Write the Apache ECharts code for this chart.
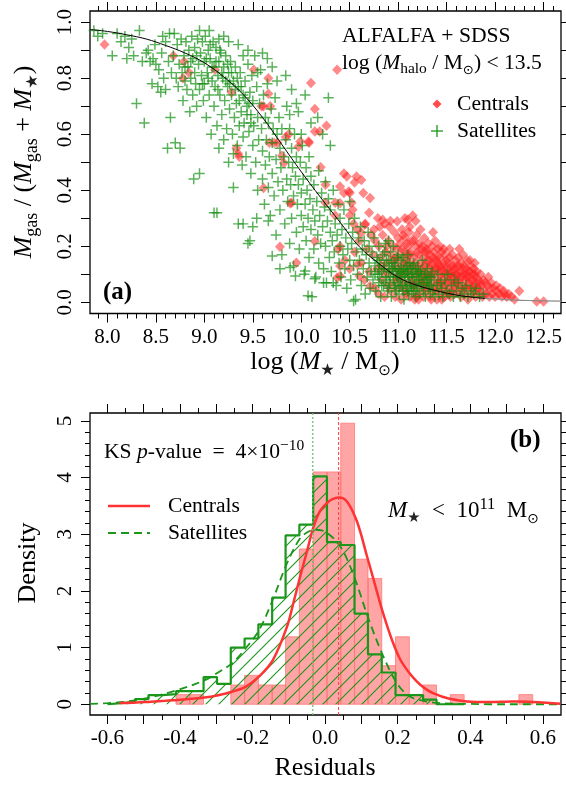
<!DOCTYPE html>
<html>
<head>
<meta charset="utf-8">
<script src="https://cdn.jsdelivr.net/npm/echarts@6/dist/echarts.min.js"></script>
<style>
html,body{margin:0;padding:0;background:#fff}
#chart{width:566px;height:785px}
</style>
</head>
<body>
<div id="chart"></div>
<script>
// ---------- Panel (a): gas fraction vs stellar mass ----------
const centrals = [
  [7.97,0.92],[8.68,0.88],[8.79,0.86],[8.78,0.8],[8.84,0.82],[9.11,0.83],[9.28,0.75],[9.51,0.83],[9.66,0.8],[9.66,0.745],
  [9.61,0.7],[9.68,0.7],[9.59,0.7],[9.33,0.55],[9.35,0.53],[9.36,0.52],[9.67,0.57],[9.72,0.57],[9.755,0.57],[9.84,0.59],
  [9.87,0.6],[9.97,0.555],[9.99,0.574],[10.08,0.57],[10.075,0.574],[9.8,0.523],[9.82,0.497],[10.1,0.783],[10.14,0.69],[10.19,0.61],
  [10.26,0.63],[10.14,0.61],[10.37,0.83],[9.61,0.408],[9.9,0.355],[9.78,0.198],[9.95,0.141],[10.14,0.218],[10.38,0.189],[10.4,0.13],
  [10.37,0.088],[10.2,0.482],[10.44,0.46],[10.47,0.449],[10.55,0.428],[10.57,0.449],[10.62,0.437],[10.64,0.39],[10.71,0.372],[10.25,0.42],
  [10.44,0.39],[10.5,0.39],[10.52,0.355],[10.25,0.355],[10.35,0.355],[10.35,0.31],[10.5,0.31],[10.54,0.28],[10.4,0.354],[10.53,0.33],
  [10.49,0.396],[10.4,0.413],[9.885,0.354],[10.6,0.094],[10.71,0.058],[10.656,0.277],[10.84,0.295],[10.99,0.289],[11.1,0.295],[10.75,0.26],
  [10.62,0.248],[10.4,0.094],[10.58,0.135],
  [10.4,0.2],[10.45,0.15],[10.5,0.12],[10.55,0.18],[10.6,0.22],[10.62,0.14],[10.65,0.08],[10.68,0.19],[10.7,0.11],[10.72,0.24],
  [10.74,0.17],[10.66,0.28],[10.7,0.32],[10.76,0.22],[10.58,0.26],
  [10.76,0.05],[10.78,0.12],[10.8,0.2],[10.8,0.03],[10.82,0.16],[10.83,0.08],[10.84,0.24],[10.85,0.11],[10.86,0.02],[10.87,0.18],
  [10.88,0.14],[10.89,0.06],[10.9,0.22],[10.9,0.1],[10.91,0.27],[10.92,0.04],[10.93,0.17],[10.94,0.12],[10.95,0.2],[10.95,0.07],
  [10.96,0.25],[10.97,0.02],[10.97,0.14],[10.98,0.09],[10.99,0.19],[11.0,0.23],[11.0,0.05],[11.0,0.12],[10.92,0.29],[10.86,0.28],
  [10.79,0.3],[10.81,0.27],
  [11.01,0.16],[11.02,0.08],[11.02,0.21],[11.03,0.01],[11.04,0.13],[11.04,0.26],[11.05,0.06],[11.06,0.18],[11.06,0.1],[11.07,0.23],
  [11.08,0.03],[11.08,0.15],[11.09,0.11],[11.1,0.2],[11.1,0.07],[11.11,0.25],[11.11,0.14],[11.12,0.02],[11.13,0.09],[11.13,0.18],
  [11.14,0.22],[11.15,0.05],[11.15,0.13],[11.16,0.16],[11.17,0.01],[11.17,0.1],[11.18,0.2],[11.19,0.07],[11.19,0.24],[11.2,0.12],
  [11.2,0.03],[11.21,0.17],[11.22,0.09],[11.22,0.21],[11.23,0.14],[11.24,0.05],[11.24,0.19],[11.25,0.11],[11.26,0.02],[11.26,0.16],
  [11.27,0.08],[11.27,0.23],[11.28,0.13],[11.29,0.04],[11.29,0.19],[11.3,0.1],[11.3,0.15],[11.12,0.27],[11.18,0.29],[11.07,0.3],
  [11.15,0.31],[11.23,0.26],[11.04,0.19],[11.09,0.17],[11.16,0.06],[11.21,0.01],[11.25,0.07],[11.28,0.18],
  [11.31,0.06],[11.31,0.21],[11.32,0.12],[11.33,0.02],[11.33,0.17],[11.34,0.09],[11.35,0.14],[11.35,0.2],[11.36,0.04],[11.37,0.11],
  [11.37,0.18],[11.38,0.07],[11.39,0.15],[11.4,0.01],[11.4,0.12],[11.41,0.19],[11.42,0.05],[11.42,0.09],[11.43,0.16],[11.44,0.13],
  [11.44,0.03],[11.45,0.18],[11.46,0.08],[11.46,0.11],[11.47,0.14],[11.48,0.02],[11.48,0.17],[11.49,0.06],[11.5,0.1],[11.5,0.15],
  [11.51,0.04],[11.52,0.12],[11.52,0.08],[11.53,0.16],[11.54,0.02],[11.54,0.1],[11.55,0.13],[11.56,0.06],[11.56,0.17],[11.57,0.09],
  [11.58,0.03],[11.58,0.12],[11.59,0.15],[11.6,0.07],[11.6,0.1],[11.38,0.22],[11.43,0.2],[11.36,0.25],[11.47,0.19],[11.53,0.19],
  [11.41,0.07],[11.45,0.01],[11.55,0.04],[11.34,0.01],
  [11.61,0.13],[11.62,0.04],[11.62,0.16],[11.63,0.08],[11.64,0.11],[11.65,0.02],[11.65,0.14],[11.66,0.06],[11.67,0.1],[11.68,0.13],
  [11.68,0.03],[11.69,0.08],[11.7,0.12],[11.7,0.05],[11.71,0.15],[11.72,0.01],[11.72,0.09],[11.73,0.11],[11.74,0.06],[11.75,0.03],
  [11.75,0.13],[11.76,0.08],[11.77,0.1],[11.78,0.04],[11.78,0.12],[11.79,0.06],[11.8,0.02],[11.8,0.09],[11.81,0.11],[11.82,0.05],
  [11.83,0.08],[11.84,0.03],[11.85,0.1],[11.86,0.06],[11.87,0.02],[11.88,0.08],[11.89,0.04],[11.9,0.07],[11.67,0.17],[11.74,0.15],
  [11.63,0.19],[11.79,0.14],
  [11.91,0.03],[11.92,0.06],[11.93,0.09],[11.94,0.02],[11.95,0.05],[11.96,0.07],[11.97,0.03],[11.98,0.05],[12.0,0.02],[12.01,0.06],
  [12.02,0.04],[12.04,0.03],[12.05,0.05],[12.07,0.02],[12.09,0.04],[12.1,0.03],[12.12,0.02],[12.14,0.03],[12.17,0.02],[12.2,0.01],
  [12.25,0.04],[12.43,0.003],[12.5,0.003],
  [10.98,0.16],[11.03,0.11],[11.05,0.24],[11.07,0.04],[11.09,0.21],[11.12,0.12],[11.14,0.07],[11.16,0.22],[11.18,0.14],[11.19,0.02],
  [11.21,0.11],[11.23,0.07],[11.25,0.2],[11.27,0.13],[11.28,0.05],[11.3,0.18],[11.31,0.09],[11.32,0.15],[11.33,0.06],[11.35,0.1],
  [11.36,0.16],[11.38,0.12],[11.39,0.04],[11.4,0.16],[11.41,0.14],[11.43,0.1],[11.44,0.07],[11.45,0.12],[11.47,0.05],[11.49,0.12],
  [11.5,0.07],[11.51,0.14],[11.52,0.03],[11.53,0.1],[11.55,0.08],[11.57,0.13],[11.58,0.06],[11.59,0.1],[11.61,0.08],[11.63,0.13],
  [11.64,0.05],[11.66,0.09],[11.67,0.12],[11.69,0.05],[11.71,0.1],[11.73,0.07],[11.74,0.11],[11.76,0.05],[11.77,0.08],[11.79,0.1],
  [11.81,0.07],[11.83,0.05],[11.85,0.07],[11.12,0.17],[11.2,0.18],[11.26,0.1],[11.34,0.13],[11.42,0.13],[11.48,0.1],[11.56,0.11],
  [11.62,0.1],[11.7,0.09],[11.06,0.14],[11.0,0.09],[10.94,0.15],[10.88,0.2],[10.83,0.13]
];

const satellites = [
  [7.86,0.97],[7.9,0.95],[7.95,0.96],[8.05,0.88],[8.1,0.96],[8.14,0.93],[8.18,0.95],[8.2,0.87],[8.22,0.91],[8.25,0.94],[8.27,0.88],[8.3,0.71],
  [8.33,0.97],[8.36,0.86],[8.38,0.64],[8.4,0.89],[8.42,0.9],[8.44,0.86],[8.46,0.78],[8.47,0.87],[8.49,0.92],[8.5,0.85],[8.52,0.77],
  [8.53,0.83],[8.55,0.75],[8.56,0.89],[8.57,0.95],[8.58,0.8],[8.6,0.76],[8.6,0.93],[8.62,0.55],[8.63,0.86],[8.64,0.96],[8.65,0.66],
  [8.66,0.82],[8.68,0.88],[8.69,0.96],
  [8.7,0.57],[8.71,0.8],[8.72,0.92],[8.73,0.77],[8.74,0.85],[8.75,0.55],[8.76,0.94],[8.77,0.82],[8.78,0.72],[8.79,0.88],[8.8,0.79],
  [8.81,0.93],[8.82,0.76],[8.83,0.84],[8.84,0.9],[8.85,0.68],[8.86,0.8],[8.87,0.95],[8.88,0.74],[8.88,0.87],[8.89,0.44],[8.9,0.82],
  [8.9,0.91],[8.91,0.78],[8.92,0.7],[8.93,0.94],[8.94,0.85],[8.95,0.46],[8.95,0.76],[8.96,0.89],[8.97,0.81],[8.98,0.93],[8.99,0.72],
  [9.0,0.86],[9.0,0.78],[9.01,0.95],[9.02,0.66],[9.03,0.82],[9.04,0.9],[9.05,0.74],[9.06,0.87],[9.07,0.6],[9.08,0.79],[9.09,0.93],[9.1,0.32],
  [9.1,0.84],[9.1,0.7],[9.11,0.77],[9.12,0.91],[9.13,0.63],[9.14,0.81],[9.15,0.86],[9.15,0.55],[9.16,0.74],[9.17,0.89],[9.18,0.67],
  [9.19,0.8],[9.2,0.84],[9.2,0.58],[9.21,0.72],[9.22,0.88],[9.23,0.62],[9.24,0.77],[9.25,0.82],[9.25,0.5],[9.26,0.69],[9.27,0.86],
  [9.28,0.74],[9.29,0.6],[9.3,0.79],[9.3,0.53],[9.31,0.66],[9.32,0.84],[9.33,0.71],[9.34,0.56],[9.35,0.28],[9.35,0.77],[9.36,0.63],
  [9.37,0.82],[9.38,0.68],[9.39,0.49],[9.4,0.74],[9.4,0.59],[9.4,0.88],[9.41,0.64],[9.42,0.79],[9.43,0.52],[9.44,0.7],[9.45,0.21],
  [9.45,0.85],[9.46,0.61],[9.47,0.75],[9.48,0.46],[9.48,0.67],[9.49,0.81],[9.5,0.56],[9.5,0.72],[9.5,0.27],[9.51,0.63],[9.52,0.88],
  [9.53,0.5],[9.54,0.77],[9.55,0.66],[9.55,0.4],[9.56,0.58],
  [9.57,0.71],[9.58,0.83],[9.59,0.62],[9.6,0.44],[9.6,0.54],[9.61,0.74],[9.62,0.35],[9.63,0.66],[9.63,0.49],[9.64,0.58],[9.65,0.78],
  [9.66,0.41],[9.66,0.64],[9.67,0.52],[9.68,0.31],[9.69,0.69],[9.7,0.57],[9.7,0.46],[9.71,0.62],[9.72,0.38],[9.73,0.73],[9.74,0.51],
  [9.74,0.24],[9.75,0.6],[9.76,0.43],[9.77,0.66],[9.78,0.33],[9.78,0.55],[9.79,0.48],[9.8,0.62],[9.8,0.17],[9.81,0.4],[9.82,0.52],
  [9.83,0.28],[9.84,0.58],[9.85,0.44],[9.85,0.7],[9.86,0.36],[9.87,0.5],[9.88,0.21],[9.88,0.62],[9.89,0.42],[9.9,0.55],[9.9,0.3],
  [9.91,0.48],[9.92,0.13],[9.92,0.38],[9.93,0.6],[9.94,0.45],[9.95,0.25],[9.95,0.52],[9.96,0.35],[9.97,0.68],[9.97,0.42],[9.98,0.19],
  [9.99,0.5],[10.0,0.31],[10.0,0.39],[10.01,0.56],[10.02,0.27],[10.02,0.44],[10.03,0.1],[10.04,0.35],[10.05,0.48],[10.05,0.22],
  [10.06,0.4],[10.07,0.3],[10.08,0.52],[10.08,0.16],[10.09,0.37],[10.1,0.26],[10.1,0.45],[10.11,0.02],[10.12,0.33],[10.13,0.19],
  [10.13,0.42],[10.14,0.29],[10.15,0.09],[10.16,0.36],[10.17,0.24],[10.18,0.47],[10.18,0.14],[10.19,0.31],[10.2,0.21],[10.21,0.39],
  [10.22,0.27],[10.23,0.12],[10.24,0.34],[10.25,0.2],[10.25,0.43],[10.26,0.07],[10.27,0.29],[10.28,0.37],[10.29,0.16],[10.3,0.25],
  [10.3,0.33],[10.31,0.11],[10.32,0.22],[10.33,0.4],[10.34,0.18],[10.35,0.28],[10.36,0.06],[10.37,0.24],[10.38,0.35],[10.39,0.14],
  [10.4,0.2],[10.4,0.3],[10.41,0.09],[10.42,0.26],[10.43,0.17],[10.44,0.33],[10.45,0.12],[10.46,0.23],[10.47,0.05],[10.48,0.19],
  [10.49,0.28],[10.5,0.15],[10.5,0.36],[10.51,0.08],[10.52,0.21],[10.53,0.25],[10.54,0.13],[10.55,0.3],[10.56,0.01],[10.57,0.18],
  [10.58,0.1],[10.59,0.23],[10.6,0.15],[10.61,0.27],[10.62,0.06],[10.63,0.19],[10.64,0.12],[10.65,0.22],[10.66,0.03],[10.67,0.17],
  [10.68,0.09],[10.69,0.25],[10.7,0.14],[10.7,0.2],[10.71,0.05],[10.72,0.11],[10.73,0.18],[10.74,0.08],[10.75,0.23],[10.76,0.13],
  [10.77,0.04],[10.78,0.16],[10.79,0.1],[10.8,0.2],[10.8,0.07],[10.81,0.14],[10.82,0.02],[10.83,0.11],[10.84,0.17],[10.85,0.06],
  [10.86,0.13],[10.87,0.21],[10.88,0.09],[10.89,0.04],[10.9,0.15],[10.9,0.11],[10.91,0.07],[10.92,0.18],[10.93,0.02],[10.94,0.12],
  [10.95,0.08],[10.96,0.14],[10.97,0.05],[10.98,0.1],[10.99,0.16],[11.0,0.07],[11.0,0.12],[11.01,0.03],[11.02,0.09],[11.03,0.15],
  [11.04,0.06],[11.05,0.11],[11.06,0.01],[11.07,0.08],[11.08,0.13],[11.09,0.05],[11.1,0.1],[11.1,0.17],[11.11,0.03],[11.12,0.07],
  [11.13,0.12],[11.14,0.04],[11.15,0.09],[11.16,0.14],[11.17,0.06],[11.18,0.02],[11.19,0.1],[11.2,0.05],[11.2,0.13],[11.21,0.08],
  [11.22,0.03],[11.23,0.11],[11.24,0.06],[11.25,0.15],[11.26,0.04],[11.27,0.09],[11.28,0.02],[11.29,0.07],[11.3,0.12],[11.31,0.05],
  [11.32,0.09],[11.33,0.03],[11.34,0.06],[11.35,0.11],[11.36,0.04],[11.37,0.08],[11.38,0.02],[11.4,0.06],[11.41,0.1],[11.42,0.03],
  [11.44,0.07],[11.45,0.05],[11.46,0.02],[11.48,0.08],[11.5,0.04],[11.51,0.1],[11.53,0.03],[11.55,0.06],[11.57,0.02],[11.58,0.08],
  [11.6,0.04],[11.62,0.07],[11.64,0.02],[11.66,0.05],[11.68,0.03],[11.7,0.06],[11.72,0.02],[11.75,0.04],[11.78,0.03],[11.8,0.05],
  [11.84,0.02],[11.88,0.03],
  [9.84,0.81],[9.9,0.76],[10.04,0.74],[10.28,0.73],[10.17,0.66],[10.3,0.56],[10.22,0.6],[9.95,0.71],[10.1,0.64],[10.0,0.6],
  [9.88,0.67],[9.75,0.79],[9.7,0.84],[9.65,0.87],[9.6,0.89],[9.55,0.82],[9.45,0.9],[9.35,0.92],[9.25,0.93],[9.2,0.95],
  [9.15,0.94],[9.05,0.97],[8.95,0.97],
  [9.13,0.32],[9.3,0.41],[9.4,0.28],[9.47,0.22],[9.54,0.3],[9.66,0.29],[9.7,0.165],[9.78,0.12],[9.885,0.124],[9.94,0.094],
  [10.04,0.112],[10.07,0.023],[10.14,0.084],[10.23,0.07],[10.33,0.07],[10.54,0.005],
  [10.76,0.1],[10.79,0.15],[10.81,0.09],[10.83,0.06],[10.85,0.12],[10.87,0.08],[10.88,0.15],[10.9,0.05],[10.91,0.12],[10.92,0.09],
  [10.93,0.14],[10.95,0.11],[10.96,0.06],[10.97,0.13],[10.98,0.04],[10.99,0.09],[11.01,0.11],[11.02,0.06],[11.03,0.12],[11.04,0.09],
  [11.05,0.04],[11.06,0.12],[11.07,0.1],[11.08,0.06],[11.09,0.11],[11.1,0.04],[11.11,0.09],[11.12,0.14],[11.13,0.06],[11.14,0.1],
  [11.15,0.12],[11.16,0.04],[11.17,0.09],[11.18,0.12],[11.19,0.06],[11.21,0.11],[11.22,0.08],[11.24,0.1],[11.26,0.07],[11.28,0.1],
  [11.3,0.08],[11.32,0.06],[11.34,0.09],[10.95,0.2],[11.0,0.17],[11.05,0.16],[11.1,0.13],[10.86,0.18],[10.9,0.22],[10.8,0.12],
  [9.02,0.87],[9.04,0.8],[9.06,0.92],[9.08,0.84],[9.12,0.86],[9.14,0.76],[9.16,0.9],[9.18,0.82],[9.22,0.79],[9.24,0.85],
  [9.26,0.78],[9.28,0.82],[9.32,0.76],[9.34,0.8],[9.36,0.72],[9.38,0.77],[9.42,0.73],[9.44,0.67],[9.46,0.71],[9.48,0.64],
  [8.92,0.88],[8.86,0.86],[8.8,0.84],[8.98,0.78]
];

// Fitted relation
const fitX = [7.82,8.0,8.2,8.4,8.6,8.8,9.0,9.2,9.4,9.6,9.8,10.0,10.2,10.4,10.6,10.8,11.0,11.2,11.4,11.6,11.8,11.9];
const fitY = [0.974,0.967,0.955,0.94,0.917,0.89,0.855,0.805,0.742,0.66,0.563,0.466,0.374,0.286,0.198,0.139,0.089,0.06,0.041,0.026,0.017,0.014];
const fitExtX = [11.9,12.0,12.2,12.4,12.68];
const fitExtY = [0.014,0.012,0.008,0.006,0.004];

// ---------- Panel (b): residual distributions ----------
const binEdges = [-0.600,-0.562,-0.524,-0.487,-0.449,-0.411,-0.373,-0.335,-0.298,-0.260,-0.222,-0.184,-0.146,-0.109,-0.071,-0.033,
  0.005,0.043,0.081,0.118,0.156,0.194,0.232,0.270,0.307,0.345,0.383,0.421,0.459,0.496,0.534,0.572];
const centralsHist = [0,0,0,0,0,0.17,0.17,0,0,0.34,0.51,0.34,0.34,1.19,2.74,4.10,4.10,4.96,2.56,2.22,0.68,1.19,0.17,0.34,0,0.17,0,0,0,0,0.17];
const satellitesHist = [0.02,0.04,0.09,0.16,0.18,0.23,0.23,0.48,0.36,1.00,1.16,1.41,1.88,2.98,3.17,4.02,2.86,2.81,1.60,0.88,0.56,0.16,0.16,0.08,0,0];

const centralsKdeX = [-0.567,-0.52,-0.48,-0.44,-0.408,-0.37,-0.333,-0.295,-0.257,-0.218,-0.182,-0.144,-0.105,-0.087,-0.069,-0.05,-0.032,-0.015,0.005,0.02,0.037,0.06,0.088,0.115,0.14,0.161,0.185,0.207,0.23,0.253,0.275,0.299,0.34,0.391,0.45,0.5,0.529,0.56,0.6,0.648];
const centralsKdeY = [0.02,0.03,0.045,0.06,0.076,0.095,0.117,0.16,0.22,0.31,0.49,0.78,1.37,1.8,2.25,2.7,3.13,3.4,3.55,3.62,3.65,3.58,3.22,2.62,2.05,1.58,1.12,0.79,0.57,0.4,0.28,0.19,0.1,0.05,0.04,0.045,0.05,0.045,0.03,0.01];
const satellitesKdeX = [-0.648,-0.6,-0.545,-0.482,-0.408,-0.333,-0.295,-0.257,-0.22,-0.182,-0.144,-0.105,-0.07,-0.05,-0.03,-0.01,0.01,0.03,0.05,0.083,0.12,0.16,0.2,0.235,0.27,0.3,0.35,0.4,0.45,0.55,0.648];
const satellitesKdeY = [0.005,0.02,0.05,0.12,0.25,0.42,0.56,0.72,0.98,1.31,1.85,2.49,2.92,3.03,3.08,3.07,3.0,2.88,2.7,2.2,1.5,0.85,0.35,0.13,0.06,0.03,0.01,0.005,0,0,0];
const centralsMedian = 0.037;
const satellitesMedian = -0.034;

// Axis ranges
const aXRange = [7.82, 12.68];
const aYRange = [-0.04, 1.04];
const bXRange = [-0.648, 0.65];
const bYRange = [-0.19, 5.14];

// Tick positions and labels
const aXLabels = [8,8.5,9,9.5,10,10.5,11,11.5,12,12.5];
const aYLabels = [0,0.2,0.4,0.6,0.8,1.0];
const bXLabels = [-0.6,-0.4,-0.2,0,0.2,0.4,0.6];
const bYLabels = [0,1,2,3,4,5];

function steps(from, to, step) {
  const out = [];
  const n = Math.round((to - from) / step);
  for (let i = 0; i <= n; i++) out.push(Math.round((from + i * step) * 1000) / 1000);
  return out;
}
const aXMinor = steps(7.9, 12.6, 0.1);
const aYTicks = steps(0, 1, 0.1);
const bXMajor = steps(-0.6, 0.6, 0.1);
const bXMinor = steps(-0.6, 0.6, 0.05);
const bYMinor = steps(0, 5, 0.2);

const FONT = "'Liberation Serif', 'DejaVu Serif', serif";
const RED = '#ff3333';
const GREEN = '#1a961a';

// Diagonal hatch used to fill the satellite histogram
function hatchPattern() {
  const s = 13;
  const c = document.createElement('canvas');
  c.width = s; c.height = s;
  const g = c.getContext('2d');
  g.strokeStyle = GREEN;
  g.lineWidth = 1.1;
  g.beginPath();
  g.moveTo(-1, s + 1); g.lineTo(s + 1, -1);
  g.moveTo(-2, 2); g.lineTo(2, -2);
  g.moveTo(s - 2, s + 2); g.lineTo(s + 2, s - 2);
  g.stroke();
  return c;
}

function zip(xs, ys) { return xs.map((x, i) => [x, ys[i]]); }

const satStep = [[binEdges[0], 0]];
satellitesHist.forEach((h, i) => satStep.push([binEdges[i], h]));
satStep.push([binEdges[satellitesHist.length], satellitesHist[satellitesHist.length - 1]]);
satStep.push([binEdges[satellitesHist.length], 0]);

const labelStyle = { fontFamily: FONT, fontSize: 21, color: '#000' };
const tickLine = { color: '#000', width: 1 };

function tickAxis(base, extra) { return Object.assign({
  type: 'value', axisLine: { show: false, onZero: false }, splitLine: { show: false },
  axisLabel: { show: false }, axisTick: { show: false }
}, base, extra); }

const xAxes = [
  // panel (a)
  tickAxis({ gridIndex: 0, min: aXRange[0], max: aXRange[1], position: 'bottom' }, {
    axisTick: { show: true, customValues: aXLabels, length: 9, lineStyle: tickLine },
    axisLabel: Object.assign({ show: true, customValues: aXLabels, margin: 13, formatter: v => v.toFixed(1) }, labelStyle)
  }),
  tickAxis({ gridIndex: 0, min: aXRange[0], max: aXRange[1], position: 'bottom' }, { axisTick: { show: true, customValues: aXMinor, length: 5, lineStyle: tickLine } }),
  tickAxis({ gridIndex: 0, min: aXRange[0], max: aXRange[1], position: 'top' }, { axisTick: { show: true, customValues: aXLabels, length: 9, lineStyle: tickLine } }),
  tickAxis({ gridIndex: 0, min: aXRange[0], max: aXRange[1], position: 'top' }, { axisTick: { show: true, customValues: aXMinor, length: 5, lineStyle: tickLine } }),
  // panel (b)
  tickAxis({ gridIndex: 1, min: bXRange[0], max: bXRange[1], position: 'bottom' }, {
    axisTick: { show: true, customValues: bXMajor, length: 9, lineStyle: tickLine },
    axisLabel: Object.assign({ show: true, customValues: bXLabels, margin: 13, formatter: v => v.toFixed(1) }, labelStyle)
  }),
  tickAxis({ gridIndex: 1, min: bXRange[0], max: bXRange[1], position: 'bottom' }, { axisTick: { show: true, customValues: bXMinor, length: 5, lineStyle: tickLine } }),
  tickAxis({ gridIndex: 1, min: bXRange[0], max: bXRange[1], position: 'top' }, { axisTick: { show: true, customValues: bXMajor, length: 9, lineStyle: tickLine } }),
  tickAxis({ gridIndex: 1, min: bXRange[0], max: bXRange[1], position: 'top' }, { axisTick: { show: true, customValues: bXMinor, length: 5, lineStyle: tickLine } })
];

const yAxes = [
  // panel (a)
  tickAxis({ gridIndex: 0, min: aYRange[0], max: aYRange[1], position: 'left' }, {
    axisTick: { show: true, customValues: aYTicks, length: 9, lineStyle: tickLine },
    axisLabel: Object.assign({ show: true, customValues: aYLabels, rotate: 90, margin: 14, formatter: v => v.toFixed(1) }, labelStyle)
  }),
  tickAxis({ gridIndex: 0, min: aYRange[0], max: aYRange[1], position: 'right' }, { axisTick: { show: true, customValues: aYTicks, length: 9, lineStyle: tickLine } }),
  // panel (b)
  tickAxis({ gridIndex: 1, min: bYRange[0], max: bYRange[1], position: 'left' }, {
    axisTick: { show: true, customValues: bYLabels, length: 9, lineStyle: tickLine },
    axisLabel: Object.assign({ show: true, customValues: bYLabels, rotate: 90, margin: 14, formatter: v => String(v) }, labelStyle)
  }),
  tickAxis({ gridIndex: 1, min: bYRange[0], max: bYRange[1], position: 'left' }, { axisTick: { show: true, customValues: bYMinor, length: 5, lineStyle: tickLine } }),
  tickAxis({ gridIndex: 1, min: bYRange[0], max: bYRange[1], position: 'right' }, { axisTick: { show: true, customValues: bYLabels, length: 9, lineStyle: tickLine } }),
  tickAxis({ gridIndex: 1, min: bYRange[0], max: bYRange[1], position: 'right' }, { axisTick: { show: true, customValues: bYMinor, length: 5, lineStyle: tickLine } })
];

// Rich-text styles for math-like labels (italic M, sub- and superscripts)
function richSet(size, lh, small, smallLh) {
  return {
    n: { fontFamily: FONT, fontSize: size, lineHeight: lh, verticalAlign: 'middle', fill: '#000' },
    m: { fontFamily: FONT, fontSize: size, lineHeight: lh, verticalAlign: 'middle', fontStyle: 'italic', fill: '#000' },
    sub: { fontFamily: FONT, fontSize: small, lineHeight: smallLh, verticalAlign: 'bottom', fill: '#000' },
    st: { fontFamily: "'DejaVu Sans', sans-serif", fontSize: small * 0.9, lineHeight: smallLh, verticalAlign: 'bottom', fill: '#222' },
    sup: { fontFamily: FONT, fontSize: small, lineHeight: smallLh - 2, verticalAlign: 'top', fill: '#000' },
    sun: { fontFamily: "'DejaVu Sans', sans-serif", fontSize: small * 0.85, lineHeight: smallLh, verticalAlign: 'bottom', fill: '#000' }
  };
}
const rich26 = richSet(26, 34, 18, 20);
const rich22 = richSet(21.6, 28, 15.5, 15);
const rich23 = richSet(23, 30, 16.5, 16);

function txt(x, y, text, rich, opts) {
  return Object.assign({
    type: 'text', x: x, y: y, z: 100,
    style: Object.assign({ text: text, rich: rich, align: 'left', verticalAlign: 'middle', fill: '#000',
      fontFamily: FONT, fontSize: 21 }, (opts && opts.style) || {})
  }, opts && opts.el || {});
}

const graphics = [
  // panel (a) titles
  txt(24, 162, '{m|M}{sub|gas}{n| / (}{m|M}{sub|gas}{n| + }{m|M}{st|★}{n|)}', rich26, { style: { align: 'center' }, el: { rotation: Math.PI / 2 } }),
  txt(325, 362, '{n|log (}{m|M}{st|★}{n| / M}{sun|⊙}{n|)}', rich26, { style: { align: 'center' } }),
  txt(342, 36, '{n|ALFALFA + SDSS}', rich22),
  txt(342, 63, '{n|log (}{m|M}{sub|halo}{n| / M}{sun|⊙}{n|) < 13.5}', rich22),
  txt(457, 104, '{n|Centrals}', rich22),
  txt(457, 131, '{n|Satellites}', rich22),
  txt(103, 293, '(a)', null, { style: { fontWeight: 'bold', fontSize: 25 } }),
  { type: 'polygon', z: 100, shape: { points: [[437, 99.5], [441.5, 104], [437, 108.5], [432.5, 104]] }, style: { fill: 'rgba(255,45,45,0.85)' } },
  { type: 'line', z: 100, shape: { x1: 431, y1: 131, x2: 443, y2: 131 }, style: { stroke: GREEN, lineWidth: 1.3 } },
  { type: 'line', z: 100, shape: { x1: 437, y1: 125, x2: 437, y2: 137 }, style: { stroke: GREEN, lineWidth: 1.3 } },
  // panel (b) titles
  txt(28, 563, '{n|Density}', rich26, { style: { align: 'center' }, el: { rotation: Math.PI / 2 } }),
  txt(325, 768, '{n|Residuals}', rich26, { style: { align: 'center' } }),
  txt(104, 452, '{n|KS }{m|p}{n|-value  =  4×10}{sup|−10}', rich22),
  txt(510, 441, '(b)', null, { style: { fontWeight: 'bold', fontSize: 25 } }),
  txt(388, 511, '{m|M}{st|★}{n|  <  10}{sup|11}{n|  M}{sun|⊙}', rich23),
  { type: 'line', z: 100, shape: { x1: 108, y1: 506, x2: 150, y2: 506 }, style: { stroke: RED, lineWidth: 2.5 } },
  { type: 'line', z: 100, shape: { x1: 108, y1: 533, x2: 150, y2: 533 }, style: { stroke: GREEN, lineWidth: 1.8, lineDash: [8, 5] } },
  txt(168, 506, '{n|Centrals}', rich22),
  txt(168, 533, '{n|Satellites}', rich22)
];

const plusSymbol = 'path://M0,4.3H10V5.7H0Z M4.3,0H5.7V10H4.3Z';

const option = {
  animation: false,
  backgroundColor: '#fff',
  grid: [
    { left: 90, top: 11, width: 471, height: 302.5, show: true, borderColor: '#000', borderWidth: 1.3, backgroundColor: 'transparent' },
    { left: 90, top: 413, width: 471, height: 302, show: true, borderColor: '#000', borderWidth: 1.3, backgroundColor: 'transparent' }
  ],
  xAxis: xAxes,
  yAxis: yAxes,
  graphic: graphics,
  series: [
    {
      name: 'Centrals', type: 'scatter', xAxisIndex: 0, yAxisIndex: 0, data: centrals,
      symbol: 'diamond', symbolSize: [10, 10.5], itemStyle: { color: 'rgba(255,35,35,0.68)' }, z: 2
    },
    {
      name: 'Satellites', type: 'scatter', xAxisIndex: 0, yAxisIndex: 0, data: satellites,
      symbol: plusSymbol, symbolSize: 10.5, itemStyle: { color: 'rgba(12,140,12,0.85)' }, z: 3
    },
    {
      type: 'line', xAxisIndex: 0, yAxisIndex: 0, data: zip(fitX, fitY), smooth: 0.4, symbol: 'none',
      lineStyle: { color: '#000', width: 1 }, z: 4
    },
    {
      type: 'line', xAxisIndex: 0, yAxisIndex: 0, data: zip(fitExtX, fitExtY), smooth: 0.4, symbol: 'none',
      lineStyle: { color: '#8c8c8c', width: 1.2 }, z: 4
    },
    {
      type: 'custom', xAxisIndex: 4, yAxisIndex: 2,
      data: centralsHist.map((h, i) => [binEdges[i], binEdges[i + 1], h]),
      encode: { x: [0, 1], y: 2 },
      renderItem: function (params, api) {
        const h = api.value(2);
        if (!h) return null;
        const a = api.coord([api.value(0), 0]);
        const b = api.coord([api.value(1), h]);
        return {
          type: 'rect',
          shape: { x: a[0], y: b[1], width: b[0] - a[0], height: a[1] - b[1] },
          style: { fill: 'rgba(255,55,55,0.45)', stroke: 'rgba(255,120,120,0.8)', lineWidth: 1 }
        };
      },
      z: 2
    },
    {
      type: 'line', xAxisIndex: 4, yAxisIndex: 2, data: satStep, step: 'end', symbol: 'none',
      lineStyle: { color: GREEN, width: 2.2 },
      areaStyle: { color: { image: hatchPattern(), repeat: 'repeat' }, opacity: 1, origin: 0 },
      z: 3
    },
    {
      type: 'line', xAxisIndex: 4, yAxisIndex: 2, data: zip(satellitesKdeX, satellitesKdeY), smooth: 0.35, symbol: 'none',
      lineStyle: { color: GREEN, width: 1.8, type: [8, 5] }, z: 4
    },
    {
      type: 'line', xAxisIndex: 4, yAxisIndex: 2, data: zip(centralsKdeX, centralsKdeY), smooth: 0.35, symbol: 'none',
      lineStyle: { color: RED, width: 2.5 }, z: 5
    },
    // median markers
    {
      type: 'line', xAxisIndex: 4, yAxisIndex: 2, symbol: 'none', silent: true,
      data: [[satellitesMedian, bYRange[0]], [satellitesMedian, bYRange[1]]],
      lineStyle: { color: '#6cbf6c', width: 1.3, type: [2, 2] }, z: 6
    },
    {
      type: 'line', xAxisIndex: 4, yAxisIndex: 2, symbol: 'none', silent: true,
      data: [[centralsMedian, bYRange[0]], [centralsMedian, bYRange[1]]],
      lineStyle: { color: '#ff4040', width: 1, type: [3, 2] }, z: 6
    }
  ]
};

const chart = echarts.init(document.getElementById('chart'), null, { renderer: 'canvas' });
chart.setOption(option);
</script>
</body>
</html>
